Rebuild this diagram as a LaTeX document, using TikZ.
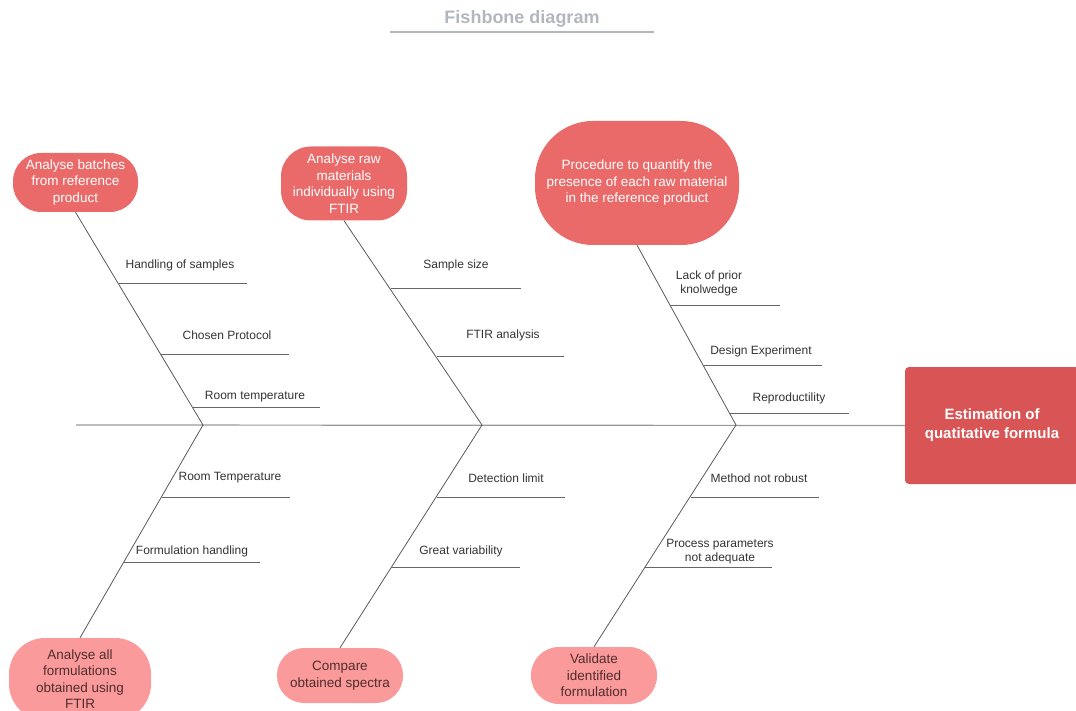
\documentclass[tikz,border=0pt]{standalone}
\usepackage{fontspec}
\setmainfont{Liberation Sans}

\definecolor{topred}{RGB}{234,106,106}
\definecolor{lowpink}{RGB}{250,154,154}
\definecolor{goalred}{RGB}{217,84,84}
\definecolor{titlegrey}{RGB}{178,182,190}
\definecolor{lowtext}{RGB}{80,45,45}

\begin{document}
\begin{tikzpicture}[x=1pt,y=-1pt,
    every node/.append style={inner sep=0pt,align=center},
    cause/.style={font=\fontsize{12}{14}\selectfont,text=black!80},
    topbox/.style={fill=topred,text=white,font=\fontsize{13.5}{16.5}\selectfont},
    lowbox/.style={fill=lowpink,text=lowtext,font=\fontsize{13.5}{16.5}\selectfont},
    bone/.style={draw=black!65,line width=0.8pt},
    twig/.style={draw=black!60,line width=0.8pt}]
    \useasboundingbox (0,0) rectangle (1076,711);

    % title
    \node[font=\fontsize{18}{20}\selectfont\bfseries,text=titlegrey] (title) at (522,18.5) {Fishbone diagram};
    \coordinate (ula) at (390,32);
    \coordinate (ulb) at (654,32);
    \draw[titlegrey,line width=1.2pt] (ula) -- (ulb);

    % head and spine
    \node[fill=goalred,rounded corners=4pt,minimum width=174pt,minimum height=117pt,
        text=white,font=\fontsize{15}{19}\selectfont\bfseries] (goal) at (992,425.5)
        {Estimation of\\quatitative formula};
    \coordinate (tail) at (76,425);
    \coordinate (s1) at (203,425);
    \coordinate (s2) at (482,425);
    \coordinate (s3) at (736,425);
    \draw[black!40,line width=1.2pt] (tail) -- (goal.west);

    % main causes
    \node[topbox,minimum width=125pt,minimum height=59pt,rounded corners=28pt] (b1) at (75.5,182.5)
        {Analyse batches\\from reference\\product};
    \node[topbox,minimum width=126pt,minimum height=74pt,rounded corners=30pt] (b2) at (344,183.5)
        {Analyse raw\\materials\\individually using\\FTIR};
    \node[topbox,minimum width=204pt,minimum height=124pt,rounded corners=58pt] (b3) at (637,183)
        {Procedure to quantify the\\presence of each raw material\\in the reference product};
    \node[lowbox,minimum width=142pt,minimum height=82pt,rounded corners=36pt] (b4) at (80,679)
        {Analyse all\\formulations\\obtained using\\FTIR};
    \node[lowbox,minimum width=126pt,minimum height=55pt,rounded corners=27pt] (b5) at (340,675.5)
        {Compare\\obtained spectra};
    \node[lowbox,minimum width=126pt,minimum height=57pt,rounded corners=28pt] (b6) at (594,675.5)
        {Validate\\identified\\formulation};

    \path[bone]
        (b1.south) edge (s1)
        (b2.south) edge (s2)
        (b3.south) edge (s3)
        (b4.north) edge (s1)
        (b5.north) edge (s2)
        (b6.north) edge (s3);

    % sub causes
    \foreach \n/\xa/\xb/\ly/\tx/\ty/\txt in {
        hs/118/247/283/180/265/{Handling of samples},
        cp/160/289/354/227/335/{Chosen Protocol},
        rt/192/320/407/255/397/{Room temperature},
        ss/391/521/288/456/265/{Sample size},
        fa/437/564/356/503/335/{FTIR analysis},
        lp/670/780/305/709/283/{Lack of prior\\knolwedge},
        de/704/822/365/761/351/{Design Experiment},
        rp/730/849/413/789/398/{Reproductility},
        rT/162/290/497/230/478/{Room Temperature},
        fh/124/260/562/192/551/{Formulation handling},
        dl/437/565/497/506/478/{Detection limit},
        gv/392/520/567/461/551/{Great variability},
        mn/691/819/497/759/478/{Method not robust},
        pp/645/772/567/720/552/{Process parameters\\not adequate}}
    {
        \coordinate (\n a) at (\xa,\ly);
        \coordinate (\n b) at (\xb,\ly);
        \node[cause] (\n) at (\tx,\ty) {\txt};
        \draw[twig] (\n a) -- (\n b);
    }
\end{tikzpicture}
\end{document}
